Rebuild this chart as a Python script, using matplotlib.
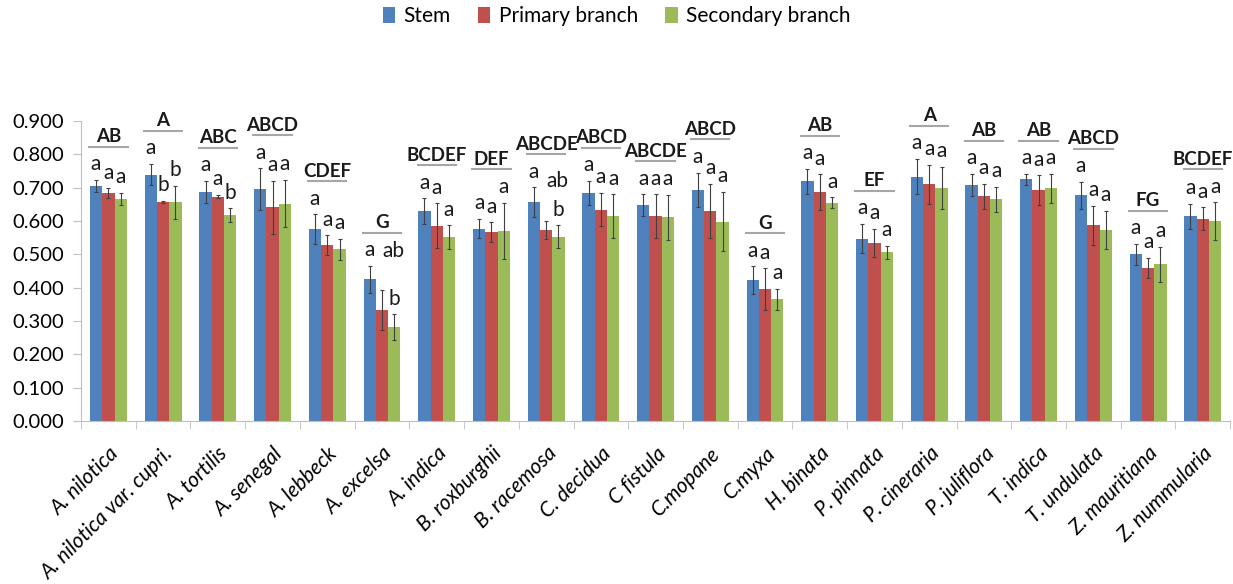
import numpy as np
import matplotlib
matplotlib.use("Agg")
import matplotlib.pyplot as plt

plt.rcParams["font.family"] = ["Lato", "DejaVu Sans"]

species = ["A. nilotica", "A. nilotica var. cupri.", "A. tortilis", "A. senegal",
           "A. lebbeck", "A. excelsa", "A. indica", "B. roxburghii", "B. racemosa",
           "C. decidua", "C fistula", "C.mopane", "C.myxa", "H. binata", "P. pinnata",
           "P. cineraria", "P. juliflora", "T. indica", "T. undulata", "Z. mauritiana",
           "Z. nummularia"]

stem = [0.705, 0.739, 0.687, 0.696, 0.576, 0.425, 0.630, 0.577, 0.657, 0.684, 0.647,
        0.693, 0.422, 0.719, 0.547, 0.733, 0.708, 0.725, 0.677, 0.500, 0.614]
primary = [0.683, 0.658, 0.673, 0.641, 0.527, 0.333, 0.586, 0.567, 0.574, 0.634, 0.615,
           0.630, 0.396, 0.687, 0.534, 0.710, 0.674, 0.692, 0.587, 0.459, 0.607]
secondary = [0.666, 0.656, 0.617, 0.652, 0.515, 0.281, 0.551, 0.570, 0.553, 0.615, 0.611,
             0.598, 0.365, 0.655, 0.506, 0.700, 0.665, 0.698, 0.573, 0.470, 0.599]

stem_err = [0.018, 0.032, 0.033, 0.062, 0.044, 0.040, 0.038, 0.029, 0.044, 0.036, 0.033,
            0.052, 0.042, 0.037, 0.044, 0.053, 0.033, 0.016, 0.040, 0.031, 0.038]
primary_err = [0.015, 0.003, 0.005, 0.079, 0.030, 0.060, 0.067, 0.029, 0.027, 0.050, 0.065,
               0.081, 0.062, 0.053, 0.043, 0.058, 0.037, 0.045, 0.058, 0.030, 0.034]
secondary_err = [0.018, 0.049, 0.021, 0.071, 0.031, 0.039, 0.036, 0.085, 0.034, 0.065, 0.067,
                 0.089, 0.031, 0.016, 0.019, 0.063, 0.038, 0.043, 0.057, 0.053, 0.057]

# letters comparing the three tissues within each species
stem_sig = ["a"] * 21
primary_sig = ["a", "b", "a", "a", "a", "ab", "a", "a", "ab", "a", "a",
               "a", "a", "a", "a", "a", "a", "a", "a", "a", "a"]
secondary_sig = ["a", "b", "b", "a", "a", "b", "a", "a", "b", "a", "a",
                 "a", "a", "a", "a", "a", "a", "a", "a", "a", "a"]

# letters comparing species
species_sig = ["AB", "A", "ABC", "ABCD", "CDEF", "G", "BCDEF", "DEF", "ABCDE", "ABCD",
               "ABCDE", "ABCD", "G", "AB", "EF", "A", "AB", "AB", "ABCD", "FG", "BCDEF"]

series = [("Stem", stem, stem_err, stem_sig, "#4F81BD"),
          ("Primary branch", primary, primary_err, primary_sig, "#C0504D"),
          ("Secondary branch", secondary, secondary_err, secondary_sig, "#9BBB59")]

fig = plt.figure(figsize=(12.33, 5.84), dpi=100)
ax = fig.add_axes([0.0657, 0.279, 0.932, 0.514])

x = np.arange(len(species))
w = 0.225
tops = np.zeros(len(species))
for i, (name, vals, errs, sig, col) in enumerate(series):
    pos = x + (i - 1) * w
    ax.bar(pos, vals, w, color=col, label=name, zorder=2)
    ax.errorbar(pos, vals, yerr=errs, fmt="none", ecolor="#404040",
                elinewidth=0.8, capsize=1.5, capthick=0.8, zorder=3)
    top = np.array(vals) + np.array(errs)
    tops = np.maximum(tops, top)
    for px, t, s in zip(pos, top, sig):
        # two-letter groups sit up and to the right, clear of their neighbours
        off = (0, 4) if len(s) == 1 else (8, 21)
        ax.annotate(s, (px, t), xytext=off, textcoords="offset points",
                    ha="center", va="bottom", fontsize=15, color="#1a1a1a",
                    annotation_clip=False)

for xi, t, s in zip(x, tops, species_sig):
    ly = t + 0.1
    ax.plot([xi - 0.35, xi + 0.35], [ly, ly], color="#a6a6a6", lw=1.5,
            clip_on=False, zorder=4)
    ax.text(xi, ly + 0.004, s, ha="center", va="bottom", fontsize=13.5,
            fontweight="bold", color="#1a1a1a", clip_on=False)

ax.set_xlim(-0.5, len(species) - 0.5)
ax.set_ylim(0, 0.9)
ax.set_yticks(np.arange(0, 0.91, 0.1))
ax.set_yticklabels(["%.3f" % v for v in np.arange(0, 0.91, 0.1)], fontsize=14.5)
ax.set_xticks(x)
ax.set_xticklabels(species, rotation=45, ha="right", va="top",
                   rotation_mode="anchor", fontsize=15, style="italic")
ax.set_xticks(np.arange(-0.5, len(species)), minor=True)
ax.tick_params(axis="x", which="major", length=0, pad=16)
ax.tick_params(axis="x", which="minor", length=6, color="#bfbfbf", direction="out")
ax.tick_params(axis="y", length=6, color="#bfbfbf", direction="out", pad=6)
for side in ["top", "right"]:
    ax.spines[side].set_visible(False)
for side in ["left", "bottom"]:
    ax.spines[side].set_color("#bfbfbf")

fig.legend(loc="upper center", bbox_to_anchor=(0.5, 1.022), ncol=3, frameon=False,
           fontsize=15, handlelength=0.6, handleheight=0.8, handletextpad=0.4,
           columnspacing=1.3)

fig.savefig("out.png", dpi=100)
